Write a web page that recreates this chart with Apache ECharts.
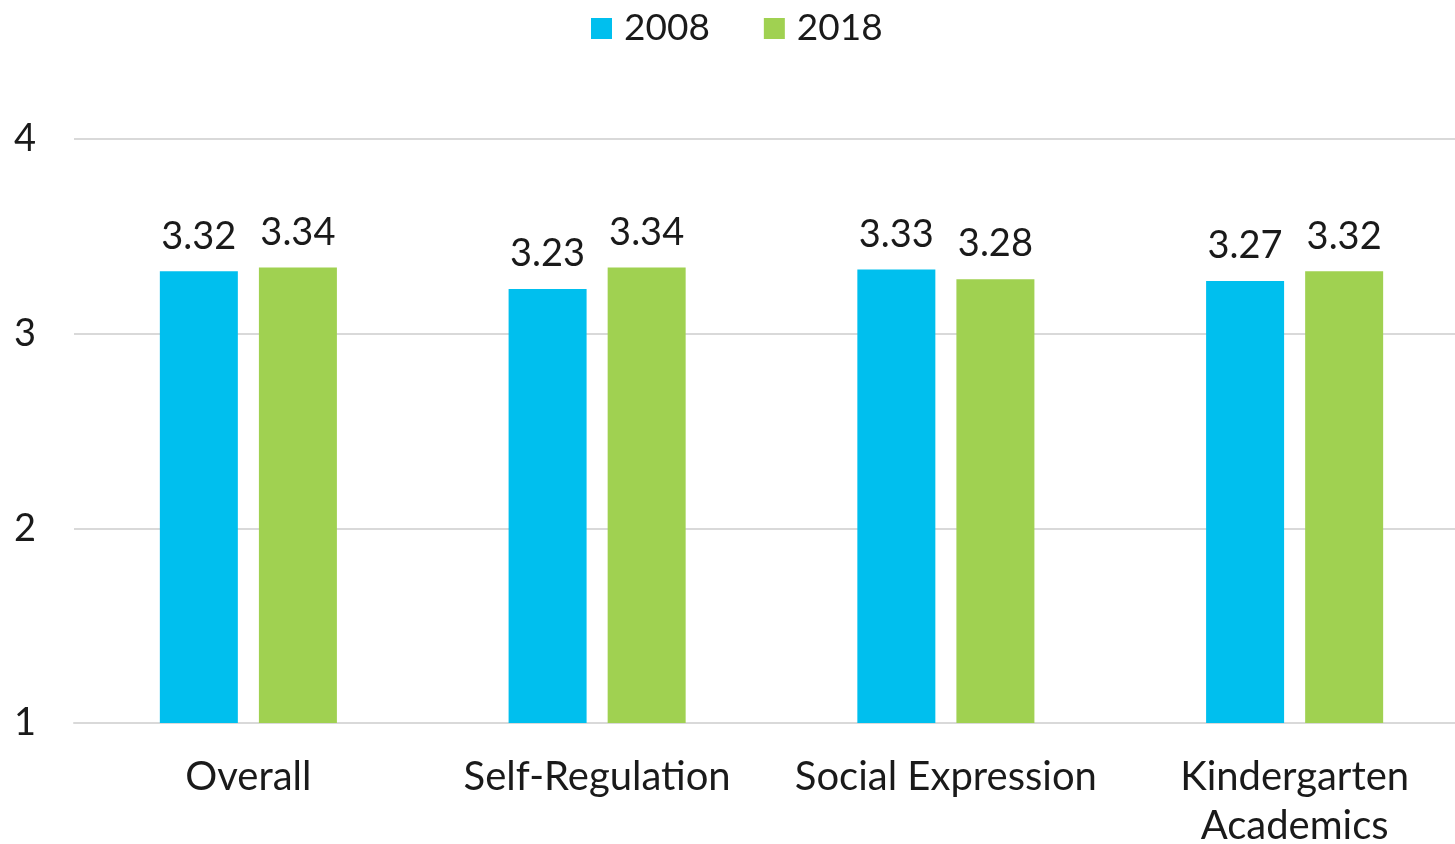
<!DOCTYPE html>
<html>
<head>
<meta charset="utf-8">
<script src="https://cdn.jsdelivr.net/npm/echarts@6/dist/echarts.min.js"></script>
<style>html,body{margin:0;padding:0;background:#fff}#c{width:1455px;height:844px}</style>
</head>
<body>
<div id="c"></div>
<script>
const categories = ['Overall', 'Self-Regulation', 'Social Expression', 'Kindergarten\nAcademics'];
const values2008 = [3.32, 3.23, 3.33, 3.27];
const values2018 = [3.34, 3.34, 3.28, 3.32];
const seriesNames = ['2008', '2018'];
const yTicks = [1, 2, 3, 4];

const FONT = 'Lato';
const chart = echarts.init(document.getElementById('c'));
const labelStyle = {
  show: true, position: 'top', distance: 16,
  fontFamily: FONT, fontSize: 38, color: '#1a1a1a',
  formatter: p => p.value.toFixed(2)
};
chart.setOption({
  animation: false,
  textStyle: { fontFamily: FONT },
  legend: {
    top: 5, left: 586, itemWidth: 21, itemHeight: 21, itemGap: 54,
    icon: 'rect',
    textStyle: { fontFamily: FONT, fontSize: 37, color: '#1a1a1a', padding: [0, 0, 0, 7] },
    data: seriesNames
  },
  grid: { left: 74, right: -14, top: 139, bottom: 121, containLabel: false, outerBoundsMode: 'none' },
  xAxis: {
    type: 'category', data: categories,
    axisLine: { show: true, lineStyle: { color: '#d9d9d9', width: 2 } },
    axisTick: { show: false },
    axisLabel: { fontFamily: FONT, fontSize: 40, color: '#1a1a1a', margin: 30, lineHeight: 49, interval: 0 }
  },
  yAxis: {
    type: 'value', min: 1, max: 4, interval: 1,
    axisLine: { show: false }, axisTick: { show: false },
    splitLine: { lineStyle: { color: '#d9d9d9', width: 2 } },
    axisLabel: { fontFamily: FONT, fontSize: 38, color: '#1a1a1a', align: 'center', margin: 49,
      formatter: v => yTicks.includes(v) ? String(v) : '' }
  },
  series: [
    { name: seriesNames[0], type: 'bar', data: values2008, barWidth: 78, barGap: '27%',
      itemStyle: { color: '#00BFEE' }, label: labelStyle },
    { name: seriesNames[1], type: 'bar', data: values2018, barWidth: 78, barGap: '27%',
      itemStyle: { color: '#A0D151' }, label: labelStyle }
  ]
});
</script>
</body>
</html>
